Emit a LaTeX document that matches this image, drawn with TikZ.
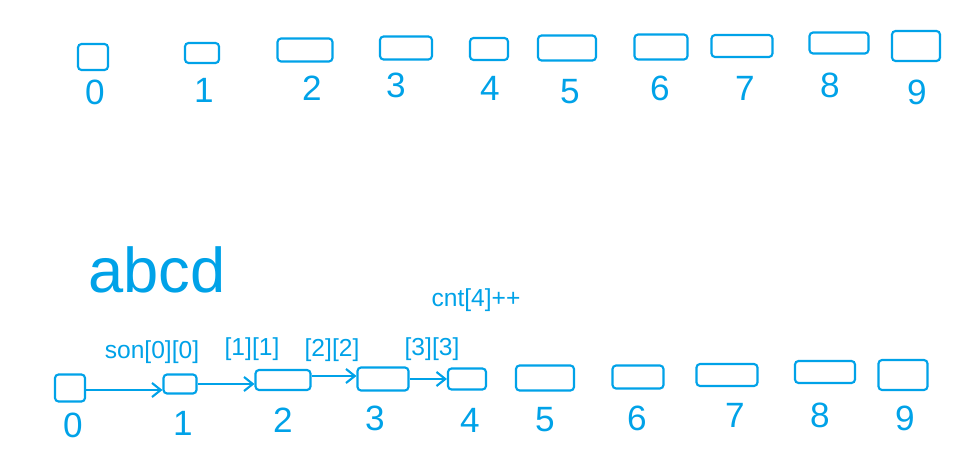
\documentclass[tikz,border=0pt]{standalone}
\usepackage{fontspec}
\setmainfont{Liberation Sans}
\usepackage{tikz}
\usetikzlibrary{arrows.meta}
\definecolor{penblue}{RGB}{0,162,232}
\tikzset{
  cell/.style={rectangle, draw=penblue, line width=1.2pt,
    rounded corners=2pt, inner sep=0pt},
  digit/.style={text=penblue, font=\fontsize{20}{22}\selectfont, inner sep=0pt},
  note/.style={text=penblue, font=\fontsize{14}{16}\selectfont, inner sep=0pt},
  link/.style={-{Straight Barb[length=5pt, width=8pt]}, line width=1.2pt, color=penblue}
}

\begin{document}
\begin{tikzpicture}[x=0.02cm, y=-0.02cm]
  \useasboundingbox (0,0) rectangle (958,456);

  % top row
  \node[cell, minimum width=0.60cm, minimum height=0.52cm] (t0) at (93,57) {};
  \node[cell, minimum width=0.68cm, minimum height=0.40cm] (t1) at (202,53) {};
  \node[cell, minimum width=1.10cm, minimum height=0.46cm] (t2) at (305,50) {};
  \node[cell, minimum width=1.04cm, minimum height=0.46cm] (t3) at (406,48) {};
  \node[cell, minimum width=0.76cm, minimum height=0.44cm] (t4) at (489,49) {};
  \node[cell, minimum width=1.16cm, minimum height=0.50cm] (t5) at (567,48) {};
  \node[cell, minimum width=1.06cm, minimum height=0.50cm] (t6) at (661,47) {};
  \node[cell, minimum width=1.22cm, minimum height=0.44cm] (t7) at (742,46) {};
  \node[cell, minimum width=1.18cm, minimum height=0.42cm] (t8) at (839,43) {};
  \node[cell, minimum width=0.96cm, minimum height=0.60cm] (t9) at (916,46) {};

  \node[digit] (tl0) at (95,92) {0};
  \node[digit] (tl1) at (204,90) {1};
  \node[digit] (tl2) at (312,88) {2};
  \node[digit] (tl3) at (396,85) {3};
  \node[digit] (tl4) at (490,88) {4};
  \node[digit] (tl5) at (570,92) {5};
  \node[digit] (tl6) at (660,88) {6};
  \node[digit] (tl7) at (745,88) {7};
  \node[digit] (tl8) at (830,85) {8};
  \node[digit] (tl9) at (917,92) {9};

  % notes
  \node[text=penblue, font=\fontsize{36}{40}\selectfont, inner sep=0pt] (word) at (157,270) {abcd};
  \node[note] (cnt) at (476,300) {cnt[4]++};
  \node[note] (son0) at (152,352) {son[0][0]};
  \node[note] (son1) at (252,349) {[1][1]};
  \node[note] (son2) at (332,350) {[2][2]};
  \node[note] (son3) at (432,349) {[3][3]};

  % bottom row
  \node[cell, minimum width=0.60cm, minimum height=0.54cm] (b0) at (70,388) {};
  \node[cell, minimum width=0.66cm, minimum height=0.38cm] (b1) at (180,384) {};
  \node[cell, minimum width=1.10cm, minimum height=0.40cm] (b2) at (283,380) {};
  \node[cell, minimum width=1.02cm, minimum height=0.46cm] (b3) at (383,379) {};
  \node[cell, minimum width=0.76cm, minimum height=0.42cm] (b4) at (467,379) {};
  \node[cell, minimum width=1.16cm, minimum height=0.50cm] (b5) at (545,378) {};
  \node[cell, minimum width=1.02cm, minimum height=0.46cm] (b6) at (638,377) {};
  \node[cell, minimum width=1.22cm, minimum height=0.44cm] (b7) at (727,375) {};
  \node[cell, minimum width=1.20cm, minimum height=0.44cm] (b8) at (825,372) {};
  \node[cell, minimum width=0.98cm, minimum height=0.60cm] (b9) at (903,375) {};

  \node[digit] (bl0) at (73,425) {0};
  \node[digit] (bl1) at (183,423) {1};
  \node[digit] (bl2) at (283,420) {2};
  \node[digit] (bl3) at (375,418) {3};
  \node[digit] (bl4) at (470,420) {4};
  \node[digit] (bl5) at (545,420) {5};
  \node[digit] (bl6) at (637,418) {6};
  \node[digit] (bl7) at (735,415) {7};
  \node[digit] (bl8) at (820,415) {8};
  \node[digit] (bl9) at (905,418) {9};

  \draw[link] ([yshift=-0.04cm]b0.east) -- ([yshift=-0.04cm]b0.east -| b1.west);
  \draw[link] (b1.east) -- (b1.east -| b2.west);
  \draw[link] ([yshift=0.08cm]b2.east) -- ([yshift=0.08cm]b2.east -| b3.west);
  \draw[link] (b3.east) -- (b3.east -| b4.west);
\end{tikzpicture}
\end{document}
